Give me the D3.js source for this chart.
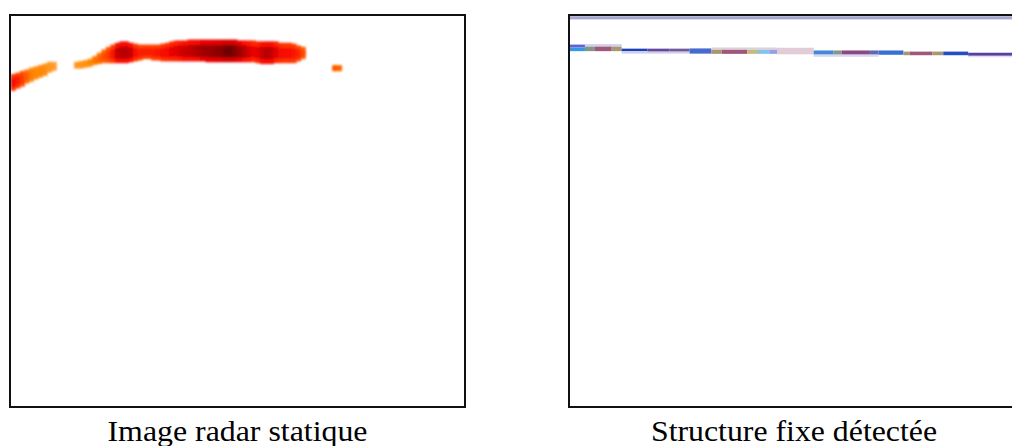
<!DOCTYPE html>
<html>
<head>
<meta charset="utf-8">
<script src="https://cdn.jsdelivr.net/npm/d3@7"></script>
<style>
  html, body { margin: 0; padding: 0; background: #fff; overflow: hidden; }
  svg { display: block; }
</style>
</head>
<body>
<svg id="chart" width="1012" height="446"></svg>
<script>
// ---------- DATA ----------
const panelTitles = ["Image radar statique", "Structure fixe détectée"];

// Left panel: radar echo per azimuth column (range bins top/bottom, intensity 0..1)
const echoCol = [0,1,2,3,4,5,6,7,8,9,
  14,15,16,17,18,19,20,21,22,23,24,25,26,27,28,29,30,31,32,33,34,35,36,37,38,39,
  40,41,42,43,44,45,46,47,48,49,50,51,52,53,54,55,56,57,58,59,60,61,62,63,64,
  71,72];
const echoTop = [12.8,12.5,12.1,11.8,11.4,11.1,10.8,10.5,10.1,10.1,
  10.1,9.9,9.7,9.4,8.8,8.1,7.4,6.8,6.3,5.9,5.6,5.6,5.9,6.1,6.3,6.3,6.3,6.3,6.3,6.1,5.9,5.6,5.4,5.4,5.4,5.2,
  5.2,5.2,5.2,5.2,5.2,5.2,5.2,5.2,5.2,5.2,5.4,5.4,5.4,5.4,5.6,5.6,5.6,5.6,5.6,5.9,5.9,5.9,6.1,6.5,6.8,
  10.8,10.8];
const echoBottom = [16.5,16.0,15.6,14.9,14.5,14.0,13.6,13.2,12.5,12.1,
  11.6,11.6,11.4,11.2,10.8,10.6,10.4,10.4,10.4,10.4,10.4,10.4,10.2,10.0,9.8,9.5,9.5,9.8,9.8,10.0,10.0,10.0,10.0,10.0,10.0,10.0,
  10.0,10.0,10.0,10.2,10.2,10.2,10.2,10.2,10.2,10.2,10.2,10.2,10.2,10.2,10.4,10.6,10.6,10.6,10.4,10.4,10.4,10.4,10.4,10.0,9.5,
  12.2,12.2];
const echoValue = [0.74,0.7,0.62,0.52,0.42,0.38,0.38,0.36,0.3,0.26,
  0.3,0.32,0.34,0.38,0.45,0.5,0.56,0.62,0.72,0.86,0.9,0.9,0.86,0.74,0.7,0.7,0.7,0.7,0.72,0.74,0.76,0.78,0.8,0.84,0.86,0.88,
  0.9,0.92,0.94,0.94,0.95,0.96,0.97,1.0,1.0,0.97,0.94,0.9,0.84,0.78,0.8,0.86,0.9,0.88,0.8,0.76,0.74,0.74,0.72,0.68,0.58,
  0.55,0.5];

// Right panel: detected fixed structure segments (azimuth start/end, range top/bottom, tone class)
const fixedStart  = [0,   0,   3.3, 3.3, 5.5, 9.2, 11.4, 11.4, 17.1, 22.0, 26.4, 31.2, 31.2, 33.5, 39.1, 41.5, 44.0, 45.7, 53.8, 53.8, 58.2, 60.0, 66.0, 68.1, 73.6, 75.0, 80.0, 82.4, 87.9, 87.9, 0];
const fixedEnd    = [3.3, 3.3, 11.4,5.5, 9.2, 11.4,17.1, 26.4, 22.0, 26.4, 31.2, 45.7, 33.5, 39.1, 41.5, 44.0, 45.7, 53.8, 68.1, 58.2, 60.0, 66.0, 68.1, 73.6, 75.0, 80.0, 82.4, 87.9, 100,  100,  100];
const fixedTop    = [6.3, 6.95,6.2, 6.75,6.75,6.75,7.2,  7.75, 7.2,  7.2,  7.15, 6.95, 7.45, 7.45, 7.45, 7.45, 7.45, 7.0,  8.4,  7.6,  7.6,  7.6,  7.6,  7.6,  7.85, 7.85, 7.85, 7.85, 8.1,  8.75, 0.05];
const fixedBottom = [6.95,7.75,6.75,7.75,7.75,7.75,7.8,  8.3,  7.8,  7.8,  8.3,  7.45, 8.35, 8.35, 8.35, 8.35, 8.35, 8.45, 9.0,  8.45, 8.45, 8.45, 8.45, 8.55, 8.65, 8.65, 8.65, 8.65, 8.8,  9.1,  0.75];
const fixedTone   = [0,   1,   2,   3,   4,   5,   6,    2,    7,    8,    9,    10,   5,    4,    11,   12,   13,   14,   15,   16,   3,    17,   18,   19,   5,    4,    5,    20,   21,   22,   23];

// ---------- STYLE ----------
const tonePalette = ["#6464d0","#3498e6","#d0d0ee","#849686","#a0587a","#a89872","#1a40b6","#64489e",
  "#725a98","#446ad0","#ddd0d8","#c2bc80","#86c0ec","#96a0e6","#e2ccd8","#d8d8f2","#4488d8","#8a4680",
  "#6268ae","#3470d2","#2650c2","#58409e","#e2def2","#a6a6ce"];

const svg = d3.select("#chart");
const defs = svg.append("defs");
defs.append("filter").attr("id","soft").attr("x","-10%").attr("y","-50%").attr("width","120%").attr("height","200%")
  .append("feGaussianBlur").attr("stdDeviation", 0.8);
defs.append("filter").attr("id","softR").attr("x","-5%").attr("y","-50%").attr("width","110%").attr("height","200%")
  .append("feGaussianBlur").attr("stdDeviation", 0.2);

const panels = [
  {x0: 10, y0: 15, w: 455, h: 392},
  {x0: 569, y0: 15, w: 455, h: 392}
];

const color = d3.scaleLinear()
  .domain([0.25, 0.4, 0.6, 0.75, 0.9, 1.0])
  .range(["#ffa030", "#ff8400", "#ff4000", "#f80800", "#b80000", "#700000"])
  .clamp(true);

const xL = d3.scaleLinear().domain([0, 100]).range([panels[0].x0 + 1, panels[0].x0 + panels[0].w - 1]);
const yL = d3.scaleLinear().domain([0, 86]).range([panels[0].y0 + 1, panels[0].y0 + panels[0].h - 1]);
const xR = d3.scaleLinear().domain([0, 100]).range([panels[1].x0 + 1, panels[1].x0 + panels[1].w - 1]);
const yR = d3.scaleLinear().domain([0, 86]).range([panels[1].y0 + 1, panels[1].y0 + panels[1].h - 1]);

panels.forEach((p, i) => {
  defs.append("clipPath").attr("id", "clip" + i)
    .append("rect").attr("x", p.x0 + 1).attr("y", p.y0 + 1).attr("width", p.w - 2).attr("height", p.h - 2);
});

// ---- Left: echo ----
const echo = echoCol.map((c, i) => ({c, top: echoTop[i], bot: echoBottom[i], v: echoValue[i]}));
const gL = svg.append("g").attr("clip-path", "url(#clip0)").append("g").attr("filter", "url(#soft)");
gL.selectAll("rect.outer").data(echo).join("rect").attr("class","outer")
  .attr("x", d => xL(d.c) - 0.3)
  .attr("width", d => xL(d.c + 1) - xL(d.c) + 0.6)
  .attr("y", d => yL(d.top))
  .attr("height", d => yL(d.bot) - yL(d.top))
  .attr("fill", d => color(d.v * 0.8 + 0.04));
gL.selectAll("rect.core").data(echo).join("rect").attr("class","core")
  .attr("x", d => xL(d.c) - 0.3)
  .attr("width", d => xL(d.c + 1) - xL(d.c) + 0.6)
  .attr("y", d => yL(d.top + (d.bot - d.top) * 0.25))
  .attr("height", d => yL(d.top + (d.bot - d.top) * 0.78) - yL(d.top + (d.bot - d.top) * 0.25))
  .attr("fill", d => color(d.v));

// ---- Right: fixed structure ----
const fixed = fixedStart.map((s, i) => ({s, e: fixedEnd[i], top: fixedTop[i], bot: fixedBottom[i], t: fixedTone[i]}));
const tone = d3.scaleOrdinal().domain(d3.range(tonePalette.length)).range(tonePalette);
const gR = svg.append("g").attr("clip-path", "url(#clip1)").append("g").attr("filter", "url(#softR)");
gR.selectAll("rect").data(fixed).join("rect")
  .attr("x", d => xR(d.s))
  .attr("width", d => xR(d.e) - xR(d.s))
  .attr("y", d => yR(d.top))
  .attr("height", d => yR(d.bot) - yR(d.top))
  .attr("fill", d => tone(d.t));

// ---- Frames ----
panels.forEach(p => {
  svg.append("rect")
    .attr("x", p.x0).attr("y", p.y0).attr("width", p.w).attr("height", p.h)
    .attr("fill", "none").attr("stroke", "#111").attr("stroke-width", 2);
});

// ---- Captions ----
const captionX = [237.5, 794];
const captionLen = [260, 286];
panelTitles.forEach((t, i) => {
  svg.append("text")
    .attr("x", captionX[i]).attr("y", 441)
    .attr("text-anchor", "middle")
    .attr("font-family", "'Liberation Serif', 'Times New Roman', Times, serif")
    .attr("font-size", 29)
    .attr("fill", "#000")
    .attr("textLength", captionLen[i])
    .attr("lengthAdjust", "spacingAndGlyphs")
    .text(t);
});
</script>
</body>
</html>
